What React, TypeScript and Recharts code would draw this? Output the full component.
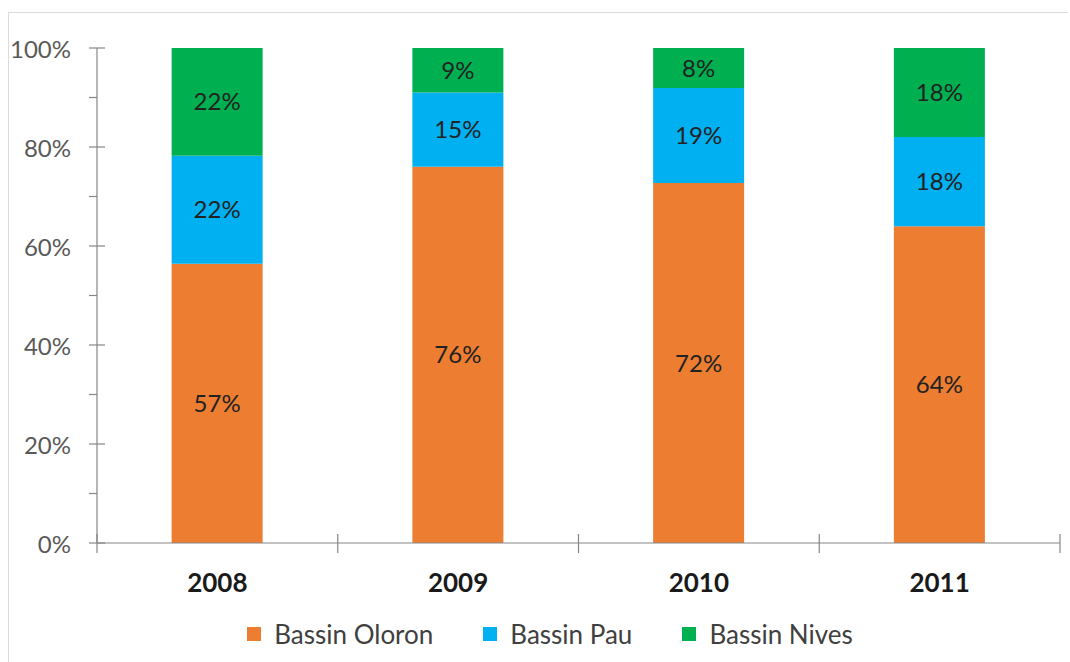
import { Bar, BarChart, LabelList, Legend, XAxis, YAxis } from "recharts";

const years = ["2008", "2009", "2010", "2011"];
const oloron = [57, 76, 72, 64];
const pau = [22, 15, 19, 18];
const nives = [22, 9, 8, 18];
const yTicks = [0, 0.1, 0.2, 0.3, 0.4, 0.5, 0.6, 0.7, 0.8, 0.9, 1];

const series = [
  { key: "oloron", name: "Bassin Oloron", color: "#ED7D31" },
  { key: "pau", name: "Bassin Pau", color: "#00B0F0" },
  { key: "nives", name: "Bassin Nives", color: "#00B050" },
];

const data = years.map((year, i) => ({
  year,
  oloron: oloron[i],
  pau: pau[i],
  nives: nives[i],
}));

const FONT = "Lato, 'Open Sans', sans-serif";
const AXIS = "#868686";

function YTick(props: any) {
  const { x, y, payload } = props;
  const pct = Math.round(payload.value * 100);
  const major = pct % 20 === 0;
  return (
    <g>
      <line x1={x - 8} x2={major ? x + 8 : x} y1={y} y2={y} stroke={AXIS} strokeWidth={1.2} />
      {major && (
        <text
          x={x - 26}
          y={y}
          textAnchor="end"
          dominantBaseline="central"
          fontSize={24}
          fontFamily={FONT}
          fill="#595959"
        >
          {pct}%
        </text>
      )}
    </g>
  );
}

function XTick(props: any) {
  const { x, y, payload, index, visibleTicksCount } = props;
  const half = payload.offset ?? 120;
  const last = index === visibleTicksCount - 1;
  return (
    <g>
      <line x1={x - half} x2={x - half} y1={y - 9} y2={y + 10} stroke={AXIS} strokeWidth={1.2} />
      {last && (
        <line x1={x + half} x2={x + half} y1={y - 9} y2={y + 10} stroke={AXIS} strokeWidth={1.2} />
      )}
      <text
        x={x}
        y={y + 39}
        textAnchor="middle"
        dominantBaseline="central"
        fontSize={26}
        fontWeight={700}
        fontFamily={FONT}
        fill="#1a1a1a"
      >
        {payload.value}
      </text>
    </g>
  );
}

function LegendContent() {
  return (
    <div
      style={{
        height: 40,
        display: "flex",
        alignItems: "center",
        justifyContent: "center",
        gap: 50,
        paddingLeft: 23,
        fontFamily: FONT,
        fontSize: 26,
        color: "#404040",
      }}
    >
      {series.map((s) => (
        <div key={s.key} style={{ display: "flex", alignItems: "center", gap: 13 }}>
          <span style={{ width: 14, height: 14, background: s.color, display: "inline-block" }} />
          <span>{s.name}</span>
        </div>
      ))}
    </div>
  );
}

export default function App() {
  return (
    <div style={{ position: "absolute", left: 0, top: 0, width: 1070, height: 662, background: "#fff" }}>
      <div
        style={{
          position: "absolute",
          left: 8,
          top: 12,
          width: 1060,
          height: 650,
          borderTop: "1px solid #dcdcdc",
          borderLeft: "1px solid #dcdcdc",
          boxSizing: "border-box",
        }}
      />
      <div style={{ position: "absolute", left: 0, top: 0 }}>
        <BarChart
          width={1070}
          height={662}
          data={data}
          stackOffset="expand"
          barCategoryGap="31%"
          margin={{ top: 48, right: 10, bottom: 8, left: 17 }}
        >
          <XAxis
            dataKey="year"
            height={71}
            tickSize={0}
            tickMargin={0}
            tickLine={false}
            axisLine={{ stroke: AXIS, strokeWidth: 1.2 }}
            tick={<XTick />}
            interval={0}
          />
          <YAxis
            width={80}
            domain={[0, 1]}
            ticks={yTicks}
            interval={0}
            tickSize={0}
            tickMargin={0}
            tickLine={false}
            axisLine={{ stroke: AXIS, strokeWidth: 1.2 }}
            tick={<YTick />}
          />
          <Legend verticalAlign="bottom" height={40} content={<LegendContent />} />
          {series.map((s) => (
            <Bar key={s.key} dataKey={s.key} name={s.name} stackId="a" fill={s.color} isAnimationActive={false}>
              <LabelList
                dataKey={s.key}
                position="center"
                formatter={(v: any) => `${v}%`}
                fill="#222"
                fontSize={24}
                fontFamily={FONT}
              />
            </Bar>
          ))}
        </BarChart>
      </div>
    </div>
  );
}
